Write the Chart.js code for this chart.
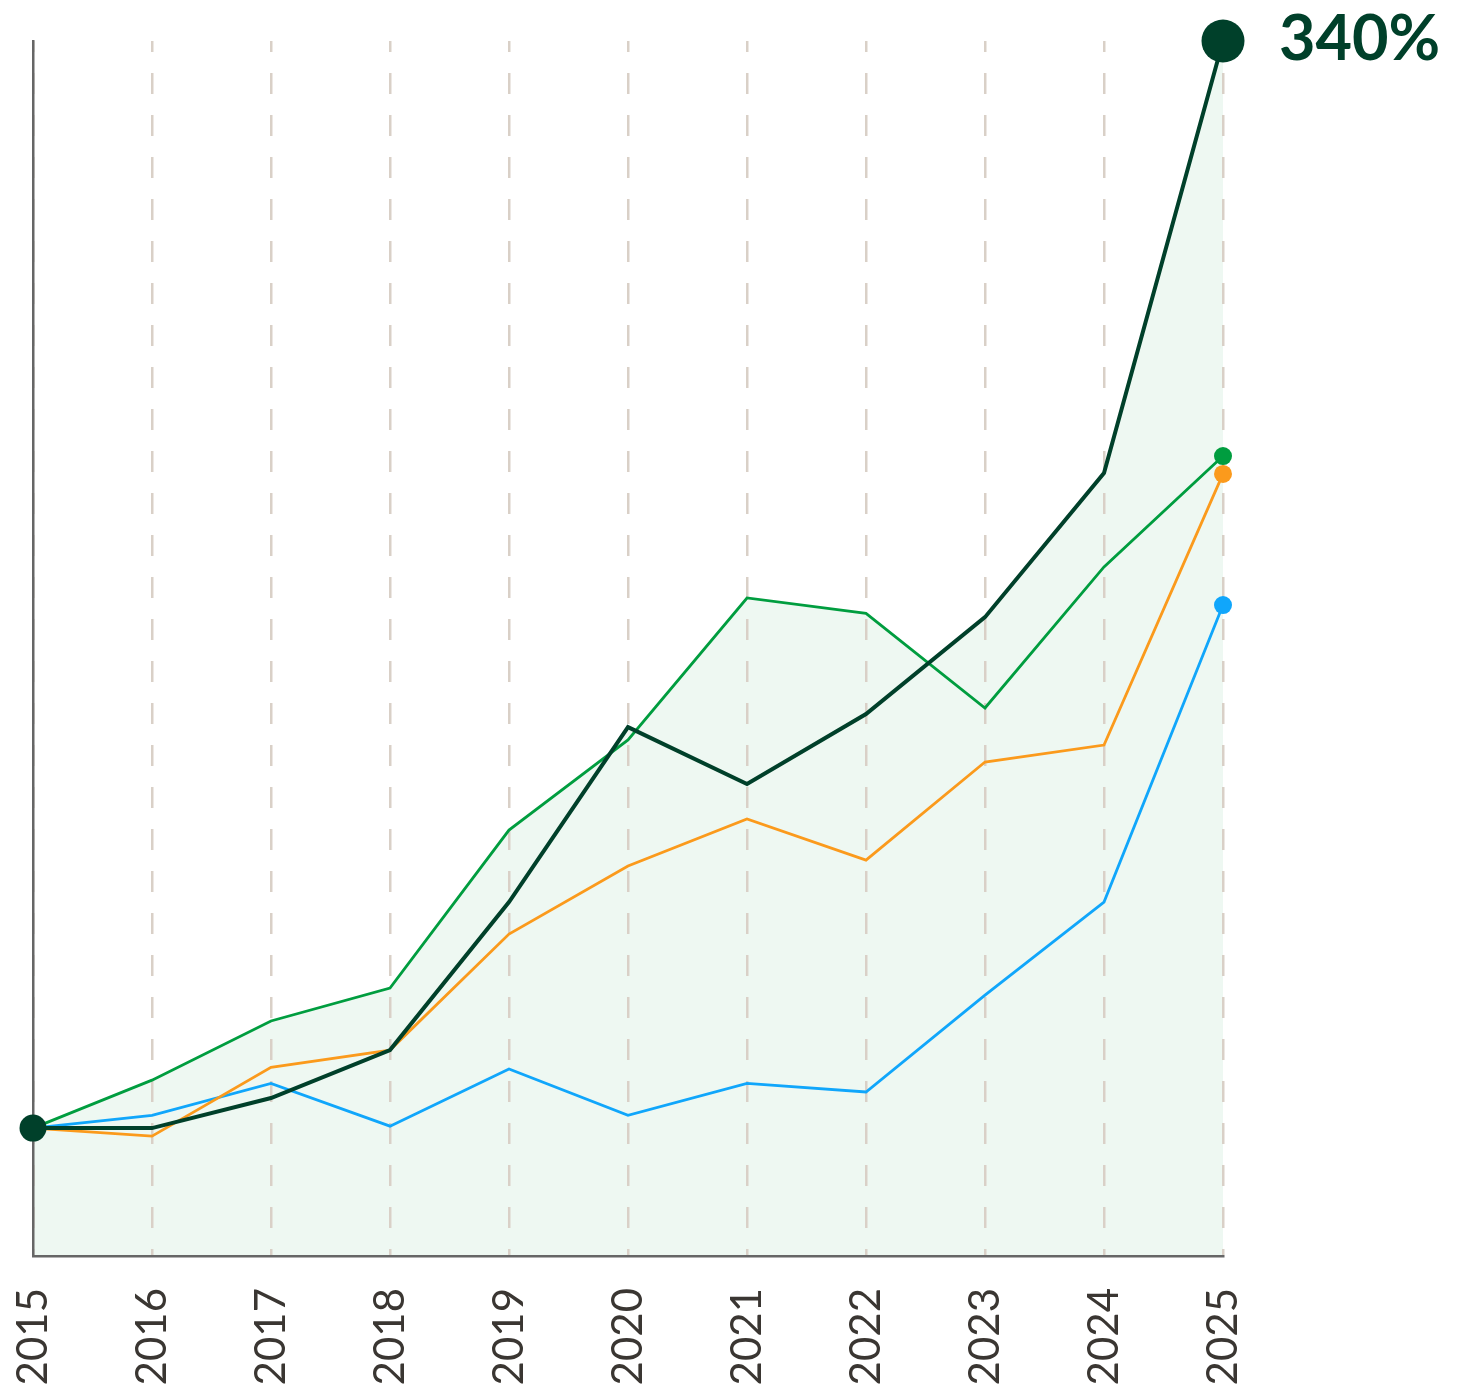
<!DOCTYPE html>
<html>
<head>
<meta charset="utf-8">
<script src="https://cdn.jsdelivr.net/npm/chart.js@4.4.1/dist/chart.umd.min.js"></script>
<style>
  html, body { margin: 0; padding: 0; background: #fff; }
  #wrap { width: 1479px; height: 1388px; position: relative; }
</style>
</head>
<body>
<div id="wrap"><canvas id="grafico"></canvas></div>
<script>
// datos (variación acumulada en %, base 2015 = 0)
const anios = ['2015', '2016', '2017', '2018', '2019', '2020', '2021', '2022', '2023', '2024', '2025'];
const serieOscura = [0, 0, 9.4, 24.4, 70.7, 125.4, 107.6, 129.5, 159.8, 204.9, 340];
const serieVerde = [0, 15, 33.5, 43.8, 93.2, 121.4, 165.8, 161, 131.4, 175.5, 210.2];
const serieNaranja = [0, -2.5, 19, 24.4, 60.7, 82, 96.7, 83.8, 114.5, 119.8, 204.6];
const serieAzul = [0, 4, 14, 0.6, 18.5, 4, 14, 11.3, 41.6, 70.7, 163.6];
const etiquetaFinal = '340%';
const yMin = -40;
const yMax = 340;

const VERDE_OSCURO = '#00402a';
const ultimo = anios.length - 1;

// relleno verde claro bajo la envolvente de las dos series superiores
const rellenoEnvolvente = {
    id: 'rellenoEnvolvente',
    beforeDraw(chart) {
        const { ctx, chartArea } = chart;
        ctx.save();
        ctx.beginPath();
        [0, 1].forEach(i => {
            const pts = chart.getDatasetMeta(i).data;
            ctx.moveTo(pts[0].x, chartArea.bottom);
            pts.forEach(p => ctx.lineTo(p.x, p.y));
            ctx.lineTo(pts[pts.length - 1].x, chartArea.bottom);
            ctx.closePath();
        });
        ctx.fillStyle = '#eef8f2';
        ctx.fill();
        ctx.restore();
    }
};

// etiqueta del último valor de la serie principal
const etiquetaUltimo = {
    id: 'etiquetaUltimo',
    afterDatasetsDraw(chart) {
        const p = chart.getDatasetMeta(0).data[ultimo];
        const { ctx } = chart;
        ctx.save();
        ctx.font = 'bold 63px Lato';
        ctx.fillStyle = VERDE_OSCURO;
        ctx.textAlign = 'left';
        ctx.textBaseline = 'alphabetic';
        ctx.fillText(etiquetaFinal, p.x + 56, p.y + 19);
        ctx.restore();
    }
};

function radios(inicio, fin) {
    return anios.map((_, i) => i === 0 ? inicio : (i === ultimo ? fin : 0));
}

new Chart(document.getElementById('grafico'), {
    type: 'line',
    data: {
        labels: anios,
        datasets: [
            {
                data: serieOscura,
                borderColor: VERDE_OSCURO,
                backgroundColor: VERDE_OSCURO,
                borderWidth: 4,
                pointRadius: radios(13.5, 21.5),
                pointBorderWidth: 0,
                clip: false
            },
            {
                data: serieVerde,
                borderColor: '#009d3f',
                backgroundColor: '#009d3f',
                borderWidth: 2.8,
                pointRadius: radios(0, 9),
                pointBorderWidth: 0,
                clip: false
            },
            {
                data: serieNaranja,
                borderColor: '#fb9a1c',
                backgroundColor: '#fb9a1c',
                borderWidth: 2.8,
                pointRadius: radios(0, 9),
                pointBorderWidth: 0,
                clip: false
            },
            {
                data: serieAzul,
                borderColor: '#10a6fb',
                backgroundColor: '#10a6fb',
                borderWidth: 2.8,
                pointRadius: radios(0, 9),
                pointBorderWidth: 0,
                clip: false
            }
        ]
    },
    options: {
        responsive: true,
        maintainAspectRatio: false,
        animation: false,
        layout: { padding: { left: 33, right: 256, top: 41, bottom: 0 } },
        plugins: {
            legend: { display: false },
            tooltip: { enabled: false }
        },
        scales: {
            x: {
                offset: false,
                grid: { color: '#d9d0c7', lineWidth: 2.5, drawTicks: false },
                border: { display: true, color: '#666666', width: 2.5, dash: [21, 21], dashOffset: 10 },
                ticks: {
                    autoSkip: false,
                    minRotation: 90,
                    maxRotation: 90,
                    padding: 32,
                    color: '#3a3632',
                    font: { family: 'Lato', size: 42 }
                },
                afterFit: s => { s.height = 132; }
            },
            y: {
                min: yMin,
                max: yMax,
                grid: { display: false },
                ticks: { display: false },
                border: { display: true, color: '#666666', width: 2.5 },
                afterFit: s => { s.width = 0; }
            }
        }
    },
    plugins: [rellenoEnvolvente, etiquetaUltimo]
});
</script>
</body>
</html>
